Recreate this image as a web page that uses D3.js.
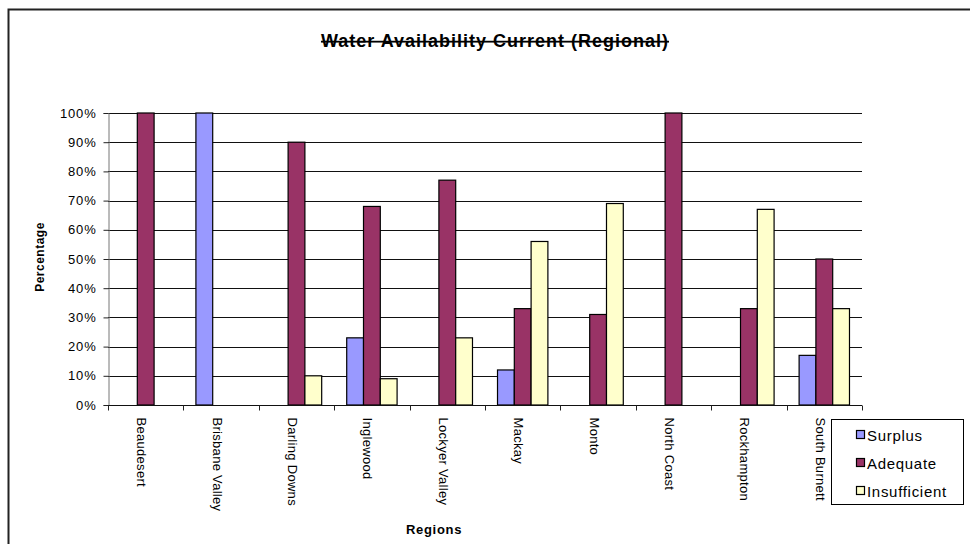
<!DOCTYPE html>
<html>
<head>
<meta charset="utf-8">
<script src="https://cdn.jsdelivr.net/npm/d3@7"></script>
<style>
  html, body { margin: 0; padding: 0; background: #fff; }
  svg { display: block; font-family: Arial, "Liberation Sans", sans-serif; }
</style>
</head>
<body>
<svg id="chart" width="970" height="544"></svg>
<script>
// Regional water availability, share of responses per category
const regions = ["Beaudesert", "Brisbane Valley", "Darling Downs", "Inglewood", "Lockyer Valley",
                 "Mackay", "Monto", "North Coast", "Rockhampton", "South Burnett"];
const seriesNames = ["Surplus", "Adequate", "Insufficient"];
const surplus      = [0, 100, 0, 23, 0, 12, 0, 0, 0, 17];
const adequate     = [100, 0, 90, 68, 77, 33, 31, 100, 33, 50];
const insufficient = [0, 0, 10, 9, 23, 56, 69, 0, 67, 33];
const yTicks = [0, 10, 20, 30, 40, 50, 60, 70, 80, 90, 100];
const colors = ["#9999FF", "#993366", "#FFFFCC"];

const seriesValues = [surplus, adequate, insufficient];
const rows = [];
regions.forEach((r, i) => {
  seriesNames.forEach((s, j) => rows.push({ region: r, series: s, value: seriesValues[j][i] }));
});

const svg = d3.select("#chart");
const plot = { left: 108, right: 862, top: 113, bottom: 405 };

// Outer chart frame (runs past the right/bottom edge)
svg.append("rect")
  .attr("x", 8.5).attr("y", 9.5)
  .attr("width", 1000).attr("height", 600)
  .attr("fill", "none").attr("stroke", "#222").attr("stroke-width", 2);

const x0 = d3.scaleBand().domain(regions).range([plot.left, plot.right]).paddingInner(0).paddingOuter(0);
const x1 = d3.scaleBand().domain(seriesNames).range([0, x0.bandwidth()]).paddingInner(0).paddingOuter(0.745);
const y = d3.scaleLinear().domain([0, 100]).range([plot.bottom, plot.top]);

// Gridlines
svg.append("g")
  .selectAll("line")
  .data(yTicks.filter(t => t > 0))
  .join("line")
  .attr("x1", plot.left).attr("x2", plot.right)
  .attr("y1", d => Math.round(y(d)) + 0.5).attr("y2", d => Math.round(y(d)) + 0.5)
  .attr("stroke", "#111").attr("stroke-width", 1);

// Y axis
const yAxis = svg.append("g")
  .attr("transform", `translate(${plot.left + 0.5},0)`)
  .call(d3.axisLeft(y).tickValues(yTicks).tickSize(5).tickPadding(7).tickFormat(d => d + "%"));
yAxis.select(".domain").attr("stroke", "#777");
yAxis.selectAll(".tick line").attr("stroke", "#222");
yAxis.selectAll("text").attr("font-size", 13).attr("letter-spacing", 0.8).attr("fill", "#000")
  .attr("font-family", "Arial, 'Liberation Sans', sans-serif");

// Bars
svg.append("g")
  .selectAll("rect")
  .data(rows.filter(d => d.value > 0))
  .join("rect")
  .attr("x", d => x0(d.region) + x1(d.series))
  .attr("y", d => y(d.value))
  .attr("width", x1.bandwidth())
  .attr("height", d => y(0) - y(d.value))
  .attr("fill", d => colors[seriesNames.indexOf(d.series)])
  .attr("stroke", "#000").attr("stroke-width", 1.2);

// X axis with category-boundary ticks
const xAxisG = svg.append("g").attr("transform", `translate(0,${plot.bottom + 0.5})`);
xAxisG.append("line")
  .attr("x1", plot.left).attr("x2", plot.right)
  .attr("stroke", "#111").attr("stroke-width", 1);
xAxisG.selectAll("line.tick")
  .data(regions.map(r => x0(r)).concat([plot.right]))
  .join("line").attr("class", "tick")
  .attr("x1", d => Math.round(d) + 0.5).attr("x2", d => Math.round(d) + 0.5)
  .attr("y1", 0).attr("y2", 5)
  .attr("stroke", "#222");
xAxisG.selectAll("text")
  .data(regions)
  .join("text")
  .attr("transform", d => `translate(${x0(d) + x0.bandwidth() / 2 - 4},12) rotate(90)`)
  .attr("dy", "0.35em")
  .attr("font-size", 13)
  .attr("letter-spacing", 0.3)
  .attr("fill", "#000")
  .text(d => d);

// Title (struck through, as in the source workbook)
svg.append("text")
  .attr("x", 495).attr("y", 47)
  .attr("text-anchor", "middle")
  .attr("font-size", 18).attr("font-weight", "bold")
  .attr("letter-spacing", 1)
  .attr("text-decoration", "line-through")
  .attr("fill", "#000")
  .text("Water Availability Current (Regional)");

// Axis titles
svg.append("text")
  .attr("transform", `translate(44,257) rotate(-90)`)
  .attr("text-anchor", "middle")
  .attr("font-size", 12).attr("font-weight", "bold")
  .attr("letter-spacing", 0.5)
  .text("Percentage");
svg.append("text")
  .attr("x", 434).attr("y", 534)
  .attr("text-anchor", "middle")
  .attr("font-size", 13).attr("font-weight", "bold")
  .attr("letter-spacing", 0.7)
  .text("Regions");

// Legend
const legend = svg.append("g");
legend.append("rect")
  .attr("x", 831.5).attr("y", 419.5).attr("width", 132).attr("height", 85)
  .attr("fill", "#fff").attr("stroke", "#000").attr("stroke-width", 1);
const item = legend.selectAll("g.item")
  .data(seriesNames)
  .join("g").attr("class", "item")
  .attr("transform", (d, i) => `translate(0,${436 + i * 28})`);
item.append("rect")
  .attr("x", 856.5).attr("y", -5.5).attr("width", 8).attr("height", 8)
  .attr("fill", (d, i) => colors[i]).attr("stroke", "#000").attr("stroke-width", 1.2);
item.append("text")
  .attr("x", 867).attr("y", 0).attr("dy", "0.35em")
  .attr("font-size", 15).attr("letter-spacing", 0.7).attr("fill", "#000")
  .text(d => d);
</script>
</body>
</html>
